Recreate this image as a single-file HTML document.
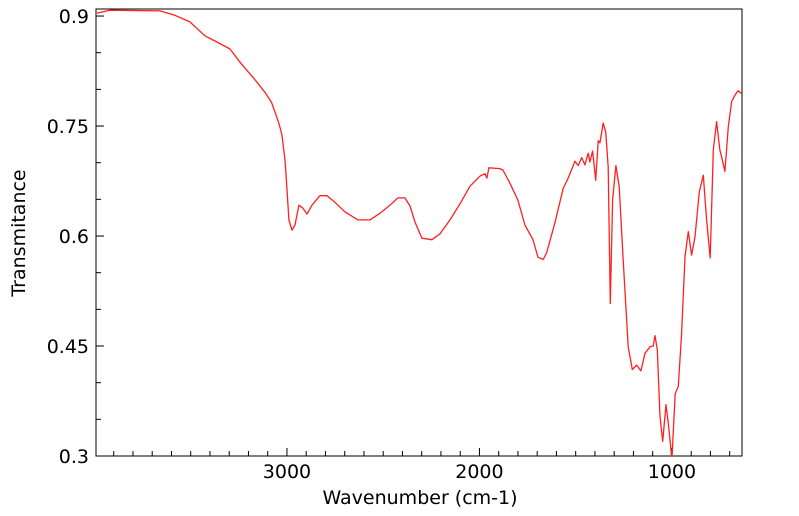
<!DOCTYPE html>
<html><head><meta charset="utf-8">
<style>
html,body{margin:0;padding:0;background:#fff;}
svg{display:block;font-family:"DejaVu Sans","Liberation Sans",sans-serif;}
</style></head>
<body>
<svg id="chart" width="799" height="516" viewBox="0 0 799 516"></svg>
<script>
const wavenumbers = [3987,3920,3660,3582,3504,3426,3374,3296,3244,3166,3114,3080,3062,3040,3026,3010,3000,2990,2974,2958,2938,2917,2896,2870,2829,2792,2751,2699,2631,2569,2517,2465,2423,2387,2361,2335,2299,2247,2205,2153,2101,2049,1996,1971,1961,1951,1894,1878,1842,1800,1764,1722,1696,1669,1651,1608,1565,1539,1504,1487,1469,1452,1435,1426,1412,1396,1383,1374,1357,1344,1331,1320,1308,1291,1274,1253,1227,1206,1183,1161,1140,1114,1097,1088,1076,1062,1048,1031,1017,1000,983,967,950,932,915,898,880,858,837,820,801,785,768,751,742,725,707,690,673,657,636];
const transmittance = [0.904,0.908,0.907,0.901,0.892,0.873,0.866,0.855,0.837,0.813,0.796,0.782,0.769,0.752,0.738,0.704,0.663,0.622,0.608,0.615,0.642,0.638,0.630,0.642,0.655,0.655,0.646,0.633,0.622,0.622,0.631,0.642,0.652,0.652,0.641,0.619,0.597,0.595,0.603,0.622,0.644,0.668,0.682,0.685,0.679,0.693,0.692,0.690,0.672,0.649,0.615,0.595,0.571,0.568,0.577,0.618,0.665,0.679,0.702,0.696,0.707,0.697,0.713,0.701,0.716,0.676,0.730,0.727,0.754,0.742,0.694,0.508,0.649,0.696,0.667,0.567,0.449,0.418,0.424,0.416,0.440,0.449,0.450,0.464,0.445,0.354,0.320,0.370,0.340,0.295,0.385,0.395,0.467,0.572,0.606,0.574,0.599,0.660,0.683,0.622,0.570,0.717,0.756,0.717,0.708,0.688,0.749,0.783,0.792,0.798,0.794];
const yTickValues = [0.3,0.45,0.6,0.75,0.9];
const yTickLabels = ["0.3","0.45","0.6","0.75","0.9"];
const xTickValues = [3000,2000,1000];
const xTickLabels = ["3000","2000","1000"];

const NS="http://www.w3.org/2000/svg";
const svg=document.getElementById('chart');
const L=96,R=742,T=9,B=456;
const xMax=3992,xMin=636,yMin=0.3,yMax=0.9096;
function xs(w){return L+(xMax-w)/(xMax-xMin)*(R-L);}
function ys(v){return B-(v-yMin)/(yMax-yMin)*(B-T);}
function mk(tag,attrs){const e=document.createElementNS(NS,tag);for(const k in attrs)e.setAttribute(k,attrs[k]);svg.appendChild(e);return e;}

const defs=mk('defs',{});
const cp=document.createElementNS(NS,'clipPath');cp.setAttribute('id','pc');
const cr=document.createElementNS(NS,'rect');cr.setAttribute('x',L);cr.setAttribute('y',T);cr.setAttribute('width',R-L);cr.setAttribute('height',B-T);
cp.appendChild(cr);defs.appendChild(cp);

const frame=mk('rect',{x:L,y:T,width:R-L,height:B-T,fill:'none',stroke:'#000','stroke-width':1});



for(let i=0;i<=12;i++){
  const v=0.3+i*0.05;const y=ys(v);if(y<T)continue;
  const major=(i%3===0);
  const t=mk('line',{x1:L,x2:L+(major?8:5),y1:y,y2:y,stroke:'#000','stroke-width':1});
  
  
}
yTickValues.forEach((v,i)=>{
  const t=mk('text',{x:L-7,y:ys(v)+7,'text-anchor':'end','font-size':19,fill:'#000'});
  t.textContent=yTickLabels[i];
  
  
});
for(let w=700;w<=3900;w+=100){
  const x=xs(w);const major=(w%1000===0);
  const t=mk('line',{x1:x,x2:x,y1:B,y2:B-(major?8:5),stroke:'#000','stroke-width':1});
  
  
}
xTickValues.forEach((w,i)=>{
  const t=mk('text',{x:xs(w),y:478,'text-anchor':'middle','font-size':19,fill:'#000'});
  t.textContent=xTickLabels[i];
  
  
});
const xt=mk('text',{x:420,y:504,'text-anchor':'middle','font-size':19,fill:'#000'});
xt.textContent='Wavenumber (cm-1)';


const yt=mk('text',{x:0,y:0,'text-anchor':'middle','font-size':19,fill:'#000',transform:'translate(25,233) rotate(-90)'});
yt.textContent='Transmitance';



const pts=wavenumbers.map((w,i)=>xs(w).toFixed(1)+','+ys(transmittance[i]).toFixed(1)).join(' ');
const line=mk('polyline',{points:pts,fill:'none',stroke:'#ff2020','stroke-width':1.3,'stroke-linejoin':'round','clip-path':'url(#pc)'});


</script>
</body></html>
